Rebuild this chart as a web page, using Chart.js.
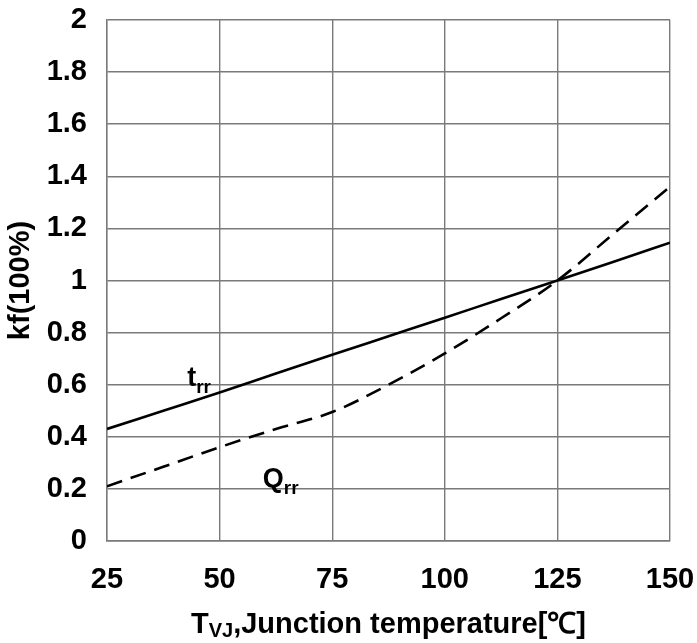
<!DOCTYPE html>
<html>
<head>
<meta charset="utf-8">
<script src="https://cdn.jsdelivr.net/npm/chart.js@4.4.1/dist/chart.umd.min.js"></script>
<style>
  html, body { margin: 0; padding: 0; background: #fff; }
  #wrap { width: 697px; height: 643px; }
</style>
</head>
<body>
<div id="wrap"><canvas id="myChart"></canvas></div>
<script>
var temps = [25, 37.5, 50, 62.5, 75, 87.5, 100, 112.5, 125, 137.5, 150];
var trr = [0.43, 0.50, 0.57, 0.643, 0.715, 0.786, 0.857, 0.929, 1.0, 1.072, 1.145];
var qrr = [0.21, 0.285, 0.36, 0.43, 0.495, 0.6, 0.72, 0.855, 1.0, 1.18, 1.36];

var FONT = '"Liberation Sans", Arial, sans-serif';

// text with a subscript part, drawn left to right from x (or centred on x)
function drawSub(ctx, x, y, main, sub, tail, big, small, drop, center) {
    ctx.font = 'bold ' + big + 'px ' + FONT;
    var w1 = ctx.measureText(main).width;
    var w3 = tail ? ctx.measureText(tail).width : 0;
    ctx.font = 'bold ' + small + 'px ' + FONT;
    var w2 = ctx.measureText(sub).width;
    if (center) x = x - (w1 + w2 + w3) / 2;
    ctx.fillStyle = '#000';
    ctx.textBaseline = 'alphabetic';
    ctx.textAlign = 'left';
    ctx.font = 'bold ' + big + 'px ' + FONT;
    ctx.fillText(main, x, y);
    ctx.font = 'bold ' + small + 'px ' + FONT;
    ctx.fillText(sub, x + w1, y + drop);
    if (tail) {
        ctx.font = 'bold ' + big + 'px ' + FONT;
        ctx.fillText(tail, x + w1 + w2, y);
    }
}

var labelsPlugin = {
    id: 'labels',
    afterDraw: function(chart) {
        var ctx = chart.ctx;
        var xs = chart.scales.x, ys = chart.scales.y;
        ctx.save();
        drawSub(ctx, xs.getPixelForValue(42.8), ys.getPixelForValue(0.595), 't', 'rr', '', 27, 19, 7, false);
        drawSub(ctx, xs.getPixelForValue(59.6), ys.getPixelForValue(0.207), 'Q', 'rr', '', 27, 19, 7, false);
        var ca = chart.chartArea;
        drawSub(ctx, (ca.left + ca.right) / 2, 633, 'T', 'VJ', ',Junction temperature[\u2103]', 29, 20, 4, true);
        ctx.restore();
    }
};

var ctx = document.getElementById('myChart').getContext('2d');
var chart = new Chart(ctx, {
    type: 'line',
    data: {
        labels: temps,
        datasets: [{
            label: 'trr',
            data: trr,
            borderColor: '#000',
            borderWidth: 2.6,
            pointRadius: 0,
            cubicInterpolationMode: 'monotone',
            fill: false
        }, {
            label: 'Qrr',
            data: qrr,
            borderColor: '#000',
            borderWidth: 2.6,
            borderDash: [16, 9],
            pointRadius: 0,
            cubicInterpolationMode: 'monotone',
            fill: false
        }]
    },
    options: {
        responsive: true,
        maintainAspectRatio: false,
        animation: false,
        layout: { padding: 0 },
        plugins: {
            legend: { display: false },
            tooltip: { enabled: false }
        },
        scales: {
            x: {
                type: 'linear',
                min: 25,
                max: 150,
                ticks: {
                    stepSize: 25,
                    color: '#000',
                    padding: 22,
                    maxRotation: 0,
                    font: { family: FONT, size: 29, weight: 'bold' }
                },
                grid: { color: '#7a7a7a', lineWidth: 1.4, drawTicks: false },
                border: { color: '#7a7a7a', width: 1.4 },
                afterFit: function(scale) {
                    scale.height = 102;
                    scale.paddingRight = 27;
                    scale.paddingLeft = 0;
                }
            },
            y: {
                min: 0,
                max: 2,
                ticks: {
                    stepSize: 0.2,
                    color: '#000',
                    padding: 20,
                    font: { family: FONT, size: 29, weight: 'bold' },
                    callback: function(v) { return String(Math.round(v * 10) / 10); }
                },
                grid: { color: '#7a7a7a', lineWidth: 1.4, drawTicks: false },
                border: { color: '#7a7a7a', width: 1.4 },
                title: {
                    display: true,
                    text: 'kf(100%)',
                    color: '#000',
                    padding: { top: 4, bottom: 0 },
                    font: { family: FONT, size: 29, weight: 'bold' }
                },
                afterFit: function(scale) {
                    scale.width = 107;
                    scale.paddingTop = 20;
                    scale.paddingBottom = 0;
                }
            }
        }
    },
    plugins: [labelsPlugin]
});
</script>
</body>
</html>
